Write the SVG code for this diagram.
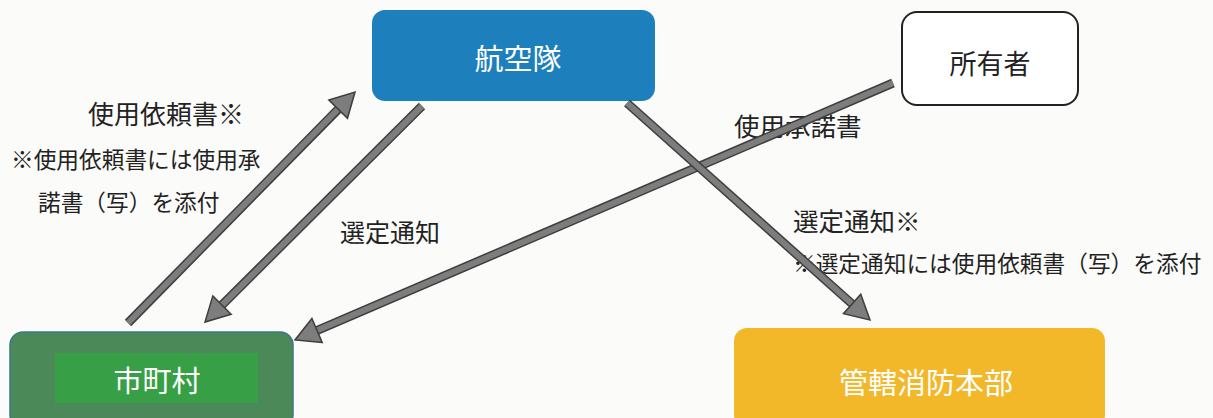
<svg xmlns="http://www.w3.org/2000/svg" width="1213" height="418" viewBox="0 0 1213 418">
<style>
.lbl{font-family:"Noto Sans CJK JP","Noto Sans CJK SC",sans-serif;fill:#222;}
.nt{font-family:"Noto Sans CJK JP","Noto Sans CJK SC",sans-serif;font-size:29px;text-anchor:middle;dominant-baseline:central;}
.sh1{stroke:#3e3e3e;stroke-width:9;stroke-linecap:butt;fill:none;}
.sh2{stroke:#7d7d7d;stroke-width:6;stroke-linecap:butt;fill:none;}
</style>
<defs>
<marker id="ah" markerUnits="userSpaceOnUse" markerWidth="30" markerHeight="30" viewBox="-2 -2 30 30" refX="2" refY="13" orient="auto">
<path d="M0,0 L24,13 L0,26 z" fill="#7d7d7d" stroke="#3e3e3e" stroke-width="1.5" stroke-linejoin="miter"/>
</marker>
</defs>
<rect width="1213" height="418" fill="#fbfbf9"/>
<g id="node-kokutai">
<rect x="372" y="10" width="283" height="91" rx="13" fill="#1d80bc"/>
<text class="nt" x="518" y="57" fill="#ffffff">航空隊</text>
</g>
<g id="node-shoyusha">
<rect x="902" y="12" width="176" height="93" rx="15" fill="#ffffff" stroke="#222" stroke-width="2"/>
<text class="nt" x="990" y="62" fill="#222" style="font-size:27px">所有者</text>
</g>
<g id="node-shichoson">
<rect x="10" y="332" width="283" height="96" rx="13" fill="#4b8a58" stroke="#3a7888" stroke-width="1.5"/>
<rect x="55" y="353" width="203" height="50" fill="#37a046"/>
<text class="nt" x="157" y="379" fill="#ffffff">市町村</text>
</g>
<g id="node-shobo">
<rect x="734" y="328" width="371" height="100" rx="13" fill="#f2b829"/>
<text class="nt" x="926" y="381" fill="#ffffff">管轄消防本部</text>
</g>
<g id="labels">
<text class="lbl" x="88" y="124" style="font-size:26px">使用依頼書※</text>
<text class="lbl" x="11" y="168" style="font-size:22.7px">※使用依頼書には使用承</text>
<text class="lbl" x="38" y="211" style="font-size:22.7px">諾書（写）を添付</text>
<text class="lbl" x="340" y="242" style="font-size:25px">選定通知</text>
<text class="lbl" x="734" y="136" style="font-size:25.5px">使用承諾書</text>
<text class="lbl" x="793" y="231" style="font-size:25.5px">選定通知※</text>
<text class="lbl" x="793" y="272" style="font-size:22.7px">※選定通知には使用依頼書（写）を添付</text>
</g>
<g id="connectors">
<line class="sh1" x1="128" y1="323" x2="340" y2="107.5"/>
<line class="sh2" x1="128" y1="323" x2="339.6" y2="107.7" marker-end="url(#ah)"/>
<line class="sh1" x1="422" y1="106" x2="221" y2="306"/>
<line class="sh2" x1="422" y1="106" x2="220.6" y2="306.5" marker-end="url(#ah)"/>
<line class="sh1" x1="893" y1="83" x2="315.6" y2="331.1"/>
<line class="sh2" x1="893" y1="83" x2="315.2" y2="331.3" marker-end="url(#ah)"/>
<line class="sh1" x1="627" y1="103" x2="853.3" y2="305"/>
<line class="sh2" x1="627" y1="103" x2="853.6" y2="305.3" marker-end="url(#ah)"/>
</g>
</svg>
